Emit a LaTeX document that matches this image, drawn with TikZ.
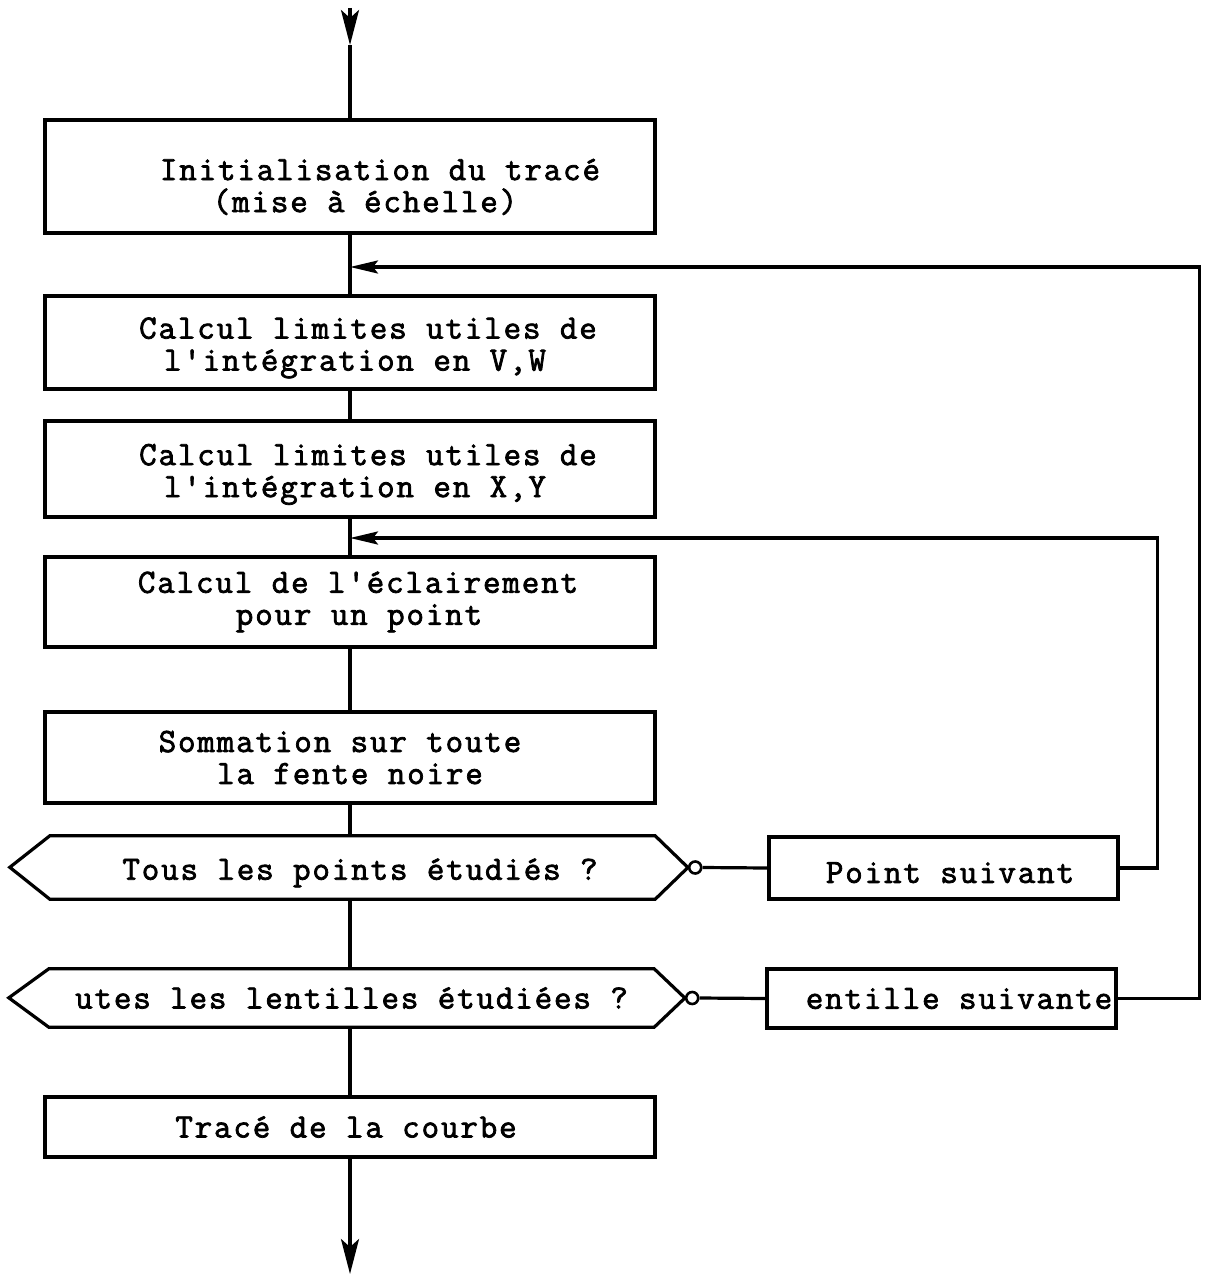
\documentclass[tikz,border=0pt]{standalone}
\usepackage{fontspec}
\newfontfamily\tw[FakeBold=2.2,LetterSpace=5.5]{Latin Modern Mono}
\usetikzlibrary{arrows.meta}
\newcommand\mv[2]{\hspace*{#1pt}#2}
\newcommand\dn[1]{\rule{0pt}{#1pt}}
\tikzset{
  ln/.style={line width=3.2pt},
  txt/.style={font=\tw\fontsize{34}{32}\selectfont, align=center, inner sep=0pt},
  box/.style={txt, draw, line width=3.2pt, minimum width=610pt},
  sbox/.style={txt, draw, line width=3.2pt, minimum width=349pt},
  dec/.style={txt, draw=none, minimum width=605pt},
  bigtip/.style={-{Stealth[length=35pt,width=18pt,inset=8pt]}},
  fbtip/.style={-{Stealth[length=28pt,width=13pt,inset=5pt]}},
  knob/.style={circle, draw, fill=white, line width=2.6pt, minimum size=12pt, inner sep=0pt}
}
\begin{document}
\begin{tikzpicture}[x=1pt,y=-1pt]
\useasboundingbox (0,0) rectangle (1211,1276);
% main boxes
\node[box, minimum height=113pt] (b1) at (350,176.5) {\dn{42}\mv{60}{Initialisation du tracé}\\\mv{30}{(mise à échelle)}};
\node[box, minimum height=93pt] (b2) at (350,342.5) {\dn{32}\mv{36}{Calcul limites utiles de}\\\mv{10}{l'intégration en V,W}};
\node[box, minimum height=96pt] (b3) at (350,469) {\dn{32}\mv{36}{Calcul limites utiles de}\\\mv{10}{l'intégration en X,Y}};
\node[box, minimum height=90pt] (b4) at (350,602) {\mv{16}{Calcul de l'éclairement}\\\mv{18}{pour un point}};
\node[box, minimum height=91pt] (b5) at (350,757.5) {\mv{-20}{Sommation sur toute}\\\mv{0}{la fente noire}};
\node[box, minimum height=60pt] (b6) at (350,1127) {\mv{-8}{Tracé de la courbe}};
% decisions
\node[dec, minimum height=63pt] (d1) at (352.5,867.5) {\dn{32}\mv{15}{Tous les points étudiés ?}};
\node[knob] (c1) at ([xshift=40pt]d1.east) {};
\draw[ln, line join=miter] (c1.west) -- (d1.north east) -- (d1.north west) -- ++(-40,31.5) -- (d1.south west) -- (d1.south east) -- (c1.west);
\node[dec, minimum height=58pt] (d2) at (351.5,998) {utes les lentilles étudiées ?};
\node[knob] (c2) at ([xshift=38pt]d2.east) {};
\draw[ln, line join=miter] (c2.west) -- (d2.north east) -- (d2.north west) -- ++(-40,29) -- (d2.south west) -- (d2.south east) -- (c2.west);
% side boxes
\node[sbox, minimum height=62pt] (ps) at (943.5,868) {\dn{30}\mv{13}{Point suivant}};
\node[sbox, minimum height=59pt] (ls) at (941.5,998.5) {\mv{35}{entille suivante}};
% coordinates
\coordinate (top) at (350,8);
\coordinate (tipA) at (350,45);
\coordinate (j1) at (350,267);
\coordinate (j2) at (350,538);
\coordinate (bot) at (350,1274);
% main flow
\draw[ln, bigtip] (top) -- (tipA);
\draw[ln] (tipA) -- (b1.north);
\draw[ln] (b1.south) -- (b2.north);
\draw[ln] (b2.south) -- (b3.north);
\draw[ln] (b3.south) -- (b4.north);
\draw[ln] (b4.south) -- (b5.north);
\draw[ln] (b5.south) -- (b5.south |- d1.north);
\draw[ln] (b5.south |- d1.south) -- (b5.south |- d2.north);
\draw[ln] (b5.south |- d2.south) -- (b6.north);
\draw[ln, bigtip] (b6.south) -- (bot);
% side connections
\draw[ln] (c1.east) -- (ps.west);
\draw[ln] (c2.east) -- (ls.west);
\draw[ln, fbtip] (ps.east) -- ++(38,0) |- (j2);
\draw[ln, fbtip] (ls.east) -- ++(82,0) |- (j1);
\end{tikzpicture}
\end{document}
